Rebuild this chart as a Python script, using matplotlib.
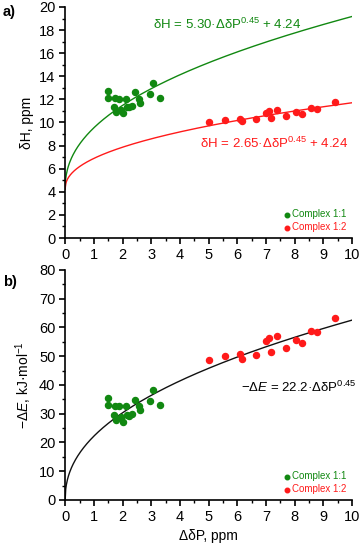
import numpy as np
from matplotlib import pyplot as plt

plt.rcParams['font.family'] = ['Liberation Sans', 'DejaVu Sans']
plt.rcParams['mathtext.fontset'] = 'custom'
plt.rcParams['mathtext.rm'] = 'Liberation Sans'
plt.rcParams['mathtext.it'] = 'Liberation Sans:italic'
plt.rcParams['font.size'] = 9.5

# Complex 1:1 (green)
dp_11 = [1.49, 1.49, 1.69, 1.74, 1.77, 1.88, 1.94, 2.01, 2.13, 2.15, 2.24, 2.33, 2.44, 2.58, 2.62, 2.97, 3.05, 3.31]
dh_11 = [12.7, 12.1, 11.3, 12.1, 10.9, 12.07, 11.05, 10.8, 12.0, 11.3, 11.3, 11.4, 12.6, 12.0, 11.7, 12.45, 13.4, 12.1]
de_11 = [35.3, 33.0, 29.5, 32.7, 27.8, 32.6, 28.7, 27.2, 32.6, 29.5, 29.3, 29.9, 34.9, 32.7, 31.2, 34.4, 38.4, 33.0]

# Complex 1:2 (red)
dp_12 = [5.03, 5.58, 6.08, 6.15, 6.66, 7.01, 7.12, 7.16, 7.38, 7.70, 8.05, 8.26, 8.57, 8.78, 9.40]
dh_12 = [10.04, 10.2, 10.3, 10.1, 10.27, 10.85, 11.0, 10.36, 11.05, 10.53, 10.88, 10.76, 11.26, 11.2, 11.8]
de_12 = [48.8, 50.0, 50.7, 49.1, 50.3, 55.2, 56.3, 51.4, 56.9, 52.9, 55.8, 54.6, 58.8, 58.3, 63.3]

# fit parameters
a_11, a_12, b_h = 5.30, 2.65, 4.24
a_e = 22.2
n = 0.45

green = '#118811'
red = '#ff1a1a'

fig = plt.figure(figsize=(3.6, 5.45), dpi=100)
ax1 = fig.add_axes([0.181, 0.5633, 0.797, 0.4239])
ax2 = fig.add_axes([0.181, 0.0826, 0.797, 0.422])

xx = np.linspace(0, 10, 500)

ax1.plot(xx, a_11 * xx**n + b_h, color=green, lw=1)
ax1.plot(xx, a_12 * xx**n + b_h, color=red, lw=1)
ax1.scatter(dp_11, dh_11, s=19, color=green, zorder=3, label='Complex 1:1')
ax1.scatter(dp_12, dh_12, s=19, color=red, zorder=3, label='Complex 1:2')
ax1.text(3.07, 18.5, r'δH = 5.30·ΔδP$^{0.45}$ + 4.24', color=green, va='center')
ax1.text(4.71, 8.2, r'δH = 2.65·ΔδP$^{0.45}$ + 4.24', color=red, va='center')
ax1.set_ylim(0, 20)
ax1.set_yticks(range(0, 21, 2))
ax1.set_yticks(range(1, 20, 2), minor=True)
ax1.set_ylabel('δH, ppm', fontsize=10)

ax2.plot(xx, a_e * xx**n, color='#111111', lw=1)
ax2.scatter(dp_11, de_11, s=19, color=green, zorder=3, label='Complex 1:1')
ax2.scatter(dp_12, de_12, s=19, color=red, zorder=3, label='Complex 1:2')
ax2.text(6.14, 39.3, r'$-\Delta\mathit{E}$ = 22.2·ΔδP$^{0.45}$', color='black', va='center')
ax2.set_ylim(0, 80)
ax2.set_yticks(range(0, 81, 10))
ax2.set_yticks(range(5, 80, 10), minor=True)
ax2.set_ylabel(r'$-\Delta\mathit{E}$, kJ·mol$^{-1}$', fontsize=10)
ax2.set_xlabel('ΔδP, ppm', fontsize=10)

for ax in (ax1, ax2):
    ax.set_xlim(0, 10)
    ax.set_xticks(range(0, 11))
    ax.set_xticks(np.arange(0.5, 10, 1), minor=True)
    ax.spines['top'].set_visible(False)
    ax.spines['right'].set_visible(False)
    ax.spines['left'].set_linewidth(1.2)
    ax.spines['bottom'].set_linewidth(1.2)
    ax.tick_params(which='major', direction='out', length=4, width=1.2, pad=3, labelsize=10.5)
    ax.tick_params(which='minor', direction='out', length=2, width=1.0)
    ax.legend(loc='lower right', frameon=False, fontsize=7, handletextpad=0.1,
              handlelength=0.8, labelspacing=0.3, borderaxespad=0.2,
              labelcolor='markerfacecolor', scatterpoints=1, markerscale=0.75)

fig.text(0.008, 0.978, 'a)', fontsize=10.5, fontweight='bold', va='center')
fig.text(0.008, 0.483, 'b)', fontsize=10.5, fontweight='bold', va='center')

fig.savefig('out.png', dpi=100)
